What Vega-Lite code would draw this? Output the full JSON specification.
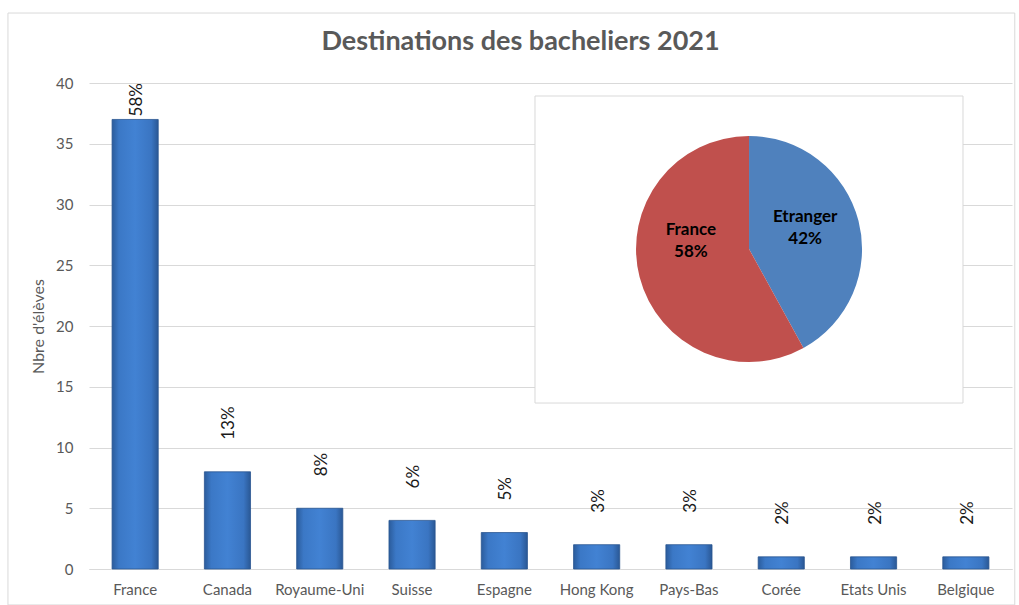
{
  "$schema": "https://vega.github.io/schema/vega-lite/v6.json",
  "width": 923,
  "height": 486,
  "autosize": {"type": "none"},
  "padding": {"left": 89, "top": 83, "right": 7, "bottom": 36},
  "background": "white",
  "config": {"view": {"stroke": null}, "font": "Lato"},
  "title": {
    "text": "Destinations des bacheliers 2021",
    "font": "Lato",
    "fontSize": 27,
    "fontWeight": "bold",
    "color": "#595959",
    "anchor": "middle",
    "frame": "group",
    "dx": -30,
    "offset": -43
  },
  "datasets": {
    "dest": [
      {"pays": "France", "eleves": 37, "part": 0.58},
      {"pays": "Canada", "eleves": 8, "part": 0.13},
      {"pays": "Royaume-Uni", "eleves": 5, "part": 0.08},
      {"pays": "Suisse", "eleves": 4, "part": 0.06},
      {"pays": "Espagne", "eleves": 3, "part": 0.05},
      {"pays": "Hong Kong", "eleves": 2, "part": 0.03},
      {"pays": "Pays-Bas", "eleves": 2, "part": 0.03},
      {"pays": "Corée", "eleves": 1, "part": 0.02},
      {"pays": "Etats Unis", "eleves": 1, "part": 0.02},
      {"pays": "Belgique", "eleves": 1, "part": 0.02}
    ],
    "pie": [
      {"group": "Etranger", "pct": 42},
      {"group": "France", "pct": 58}
    ]
  },
  "layer": [
    {
      "layer": [
        {
          "data": {"name": "dest"},
          "mark": {
            "type": "bar",
            "color": {
              "gradient": "linear",
              "x1": 0, "x2": 1, "y1": 0, "y2": 0,
              "stops": [
                {"offset": 0, "color": "#2B5C9C"},
                {"offset": 0.15, "color": "#3B78C6"},
                {"offset": 0.5, "color": "#4282D3"},
                {"offset": 0.85, "color": "#3A75C2"},
                {"offset": 1, "color": "#2A5895"}
              ]
            },
            "stroke": "#2A5690",
            "strokeWidth": 0.8
          },
          "encoding": {
            "x": {
              "field": "pays", "type": "nominal", "sort": null,
              "scale": {"paddingInner": 0.5, "paddingOuter": 0.25},
              "axis": {
                "title": null, "labelAngle": 0, "labelFont": "Lato", "labelFontSize": 15,
                "labelColor": "#595959", "labelPadding": 13, "ticks": false,
                "domainColor": "#D9D9D9", "grid": false
              }
            },
            "y": {
              "field": "eleves", "type": "quantitative",
              "scale": {"domain": [0, 40], "nice": false},
              "axis": {
                "title": "Nbre d'élèves", "titleFont": "Lato", "titleFontSize": 16,
                "titleFontWeight": "normal", "titleColor": "#595959", "titlePadding": 9,
                "values": [0, 5, 10, 15, 20, 25, 30, 35, 40],
                "labelFont": "Lato", "labelFontSize": 15, "labelColor": "#595959",
                "labelPadding": 16, "ticks": false, "domain": false,
                "gridColor": "#D9D9D9"
              }
            }
          }
        },
        {
          "data": {"name": "dest"},
          "transform": [{"filter": "datum.eleves > 30"}],
          "mark": {"type": "text", "angle": 270, "align": "left", "baseline": "middle", "dx": 3, "dy": 2, "fontSize": 17, "font": "Lato", "color": "#1a1a1a"},
          "encoding": {
            "x": {"field": "pays", "type": "nominal", "sort": null},
            "y": {"field": "eleves", "type": "quantitative"},
            "text": {"field": "part", "type": "quantitative", "format": ".0%"}
          }
        },
        {
          "data": {"name": "dest"},
          "transform": [{"filter": "datum.eleves <= 30"}],
          "mark": {"type": "text", "angle": 270, "align": "left", "baseline": "middle", "dx": 32, "dy": 2, "fontSize": 17, "font": "Lato", "color": "#1a1a1a"},
          "encoding": {
            "x": {"field": "pays", "type": "nominal", "sort": null},
            "y": {"field": "eleves", "type": "quantitative"},
            "text": {"field": "part", "type": "quantitative", "format": ".0%"}
          }
        }
      ]
    },
    {
      "layer": [
        {
          "data": {"values": [{"cadre": "graphique"}]},
          "mark": {"type": "rect", "fill": "transparent", "stroke": "#D9D9D9", "strokeWidth": 1, "clip": false},
          "encoding": {
            "x": {"datum": -0.878, "type": "quantitative", "scale": {"domain": [0, 10]}, "axis": null},
            "x2": {"datum": 10.03},
            "y": {"datum": 45.76, "type": "quantitative", "scale": {"domain": [0, 40], "nice": false}},
            "y2": {"datum": -2.96}
          }
        },
        {
          "data": {"values": [{"cadre": "encart"}]},
          "mark": {"type": "rect", "fill": "white", "stroke": "#D9D9D9", "strokeWidth": 1},
          "encoding": {
            "x": {"datum": 4.832, "type": "quantitative", "scale": {"domain": [0, 10]}, "axis": null},
            "x2": {"datum": 9.469},
            "y": {"datum": 38.93, "type": "quantitative", "scale": {"domain": [0, 40], "nice": false}},
            "y2": {"datum": 13.66}
          }
        },
        {
          "data": {"name": "pie"},
          "mark": {"type": "arc", "outerRadius": 113},
          "encoding": {
            "x": {"datum": 7.151, "type": "quantitative", "scale": {"domain": [0, 10]}, "axis": null},
            "y": {"datum": 26.34, "type": "quantitative", "scale": {"domain": [0, 40], "nice": false}},
            "theta": {"field": "pct", "type": "quantitative", "stack": true},
            "order": {"field": "group", "sort": "ascending"},
            "color": {"field": "group", "type": "nominal", "scale": {"domain": ["Etranger", "France"], "range": ["#4F81BD", "#C0504D"]}, "legend": null}
          }
        },
        {
          "data": {"name": "pie"},
          "transform": [{"calculate": "datum.group + '\\n' + datum.pct + '%'", "as": "label"}],
          "mark": {"type": "text", "radius": 60, "dx": -2, "dy": -17, "lineBreak": "\n", "font": "Lato", "fontSize": 17, "fontWeight": "bold", "color": "#000000", "lineHeight": 22},
          "encoding": {
            "x": {"datum": 7.151, "type": "quantitative", "scale": {"domain": [0, 10]}, "axis": null},
            "y": {"datum": 26.34, "type": "quantitative", "scale": {"domain": [0, 40], "nice": false}},
            "theta": {"field": "pct", "type": "quantitative", "stack": true},
            "order": {"field": "group", "sort": "ascending"},
            "text": {"field": "label", "type": "nominal"},
            "opacity": {"condition": {"test": "datum.group === 'Etranger'", "value": 1}, "value": 0}
          }
        },
        {
          "data": {"name": "pie"},
          "transform": [{"calculate": "datum.group + '\\n' + datum.pct + '%'", "as": "label"}],
          "mark": {"type": "text", "radius": 60, "dx": 0, "dy": -34, "lineBreak": "\n", "font": "Lato", "fontSize": 17, "fontWeight": "bold", "color": "#000000", "lineHeight": 22},
          "encoding": {
            "x": {"datum": 7.151, "type": "quantitative", "scale": {"domain": [0, 10]}, "axis": null},
            "y": {"datum": 26.34, "type": "quantitative", "scale": {"domain": [0, 40], "nice": false}},
            "theta": {"field": "pct", "type": "quantitative", "stack": true},
            "order": {"field": "group", "sort": "ascending"},
            "text": {"field": "label", "type": "nominal"},
            "opacity": {"condition": {"test": "datum.group === 'France'", "value": 1}, "value": 0}
          }
        }
      ]
    }
  ],
  "resolve": {"scale": {"x": "independent"}, "axis": {"x": "independent"}}
}
